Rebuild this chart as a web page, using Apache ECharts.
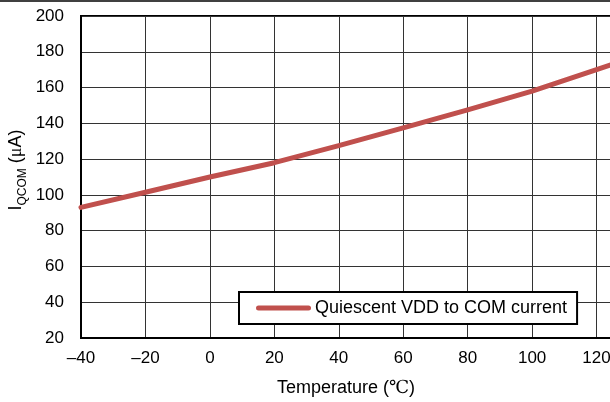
<!DOCTYPE html>
<html>
<head>
<meta charset="utf-8">
<script src="https://cdn.jsdelivr.net/npm/echarts@6/dist/echarts.min.js"></script>
<style>html,body{margin:0;padding:0;background:#fff;}#c{width:610px;height:402px;}</style>
</head>
<body>
<div id="c"></div>
<script>
var temperatures = [-40, -20, 0, 20, 40, 60, 80, 100, 120, 125];
var currentQCOM = [93, 101.5, 110, 118, 127.5, 137.5, 147.5, 158, 170, 173];
var seriesName = 'Quiescent VDD to COM current';
var xTitle = 'Temperature (';
var xUnit = '℃';

var chart = echarts.init(document.getElementById('c'), null, {renderer: 'canvas'});
var pts = temperatures.map(function (t, i) { return [t, currentQCOM[i]]; });
chart.setOption({
  animation: false,
  backgroundColor: '#fff',
  grid: {left: 81, top: 16, right: -51, bottom: 64, containLabel: false, outerBoundsMode: 'none',
    show: true, borderColor: '#000', borderWidth: 2, backgroundColor: 'transparent'},
  xAxis: {
    type: 'value', min: -40, max: 140, interval: 20,
    axisLine: {show: true, onZero: false, lineStyle: {color: '#000', width: 2}},
    axisTick: {show: false},
    splitLine: {show: true, lineStyle: {color: '#333', width: 1}},
    axisLabel: {color: '#000', fontSize: 17, fontFamily: 'Liberation Sans, Arial', margin: 12,
      formatter: function (v) { return String(v).replace('-', '\u2013'); }}
  },
  yAxis: {
    type: 'value', min: 20, max: 200, interval: 20,
    axisLine: {show: true, onZero: false, lineStyle: {color: '#000', width: 2}},
    axisTick: {show: false},
    splitLine: {show: true, lineStyle: {color: '#333', width: 1}},
    axisLabel: {color: '#000', fontSize: 17, fontFamily: 'Liberation Sans, Arial', margin: 17}
  },
  legend: {
    left: 239, top: 292,
    data: [{name: seriesName, icon: 'path://M2,0 L52,0 A2.5,2.5 0 0 1 52,5 L2,5 A2.5,2.5 0 0 1 2,0 Z'}],
    itemWidth: 55, itemHeight: 5, itemGap: 4,
    backgroundColor: '#fff', borderColor: '#000', borderWidth: 2,
    padding: [7, 10, 7, 17],
    textStyle: {color: '#000', fontSize: 18, fontFamily: 'Liberation Sans, Arial', padding: [0, 0, 0, -1]}
  },
  graphic: [
    {type: 'line', shape: {x1: 0, y1: 1, x2: 610, y2: 1}, style: {stroke: '#000', lineWidth: 1.5}, silent: true},
    {type: 'text', x: 346, y: 388, style: {
      text: '{a|' + xTitle + '}{u|' + xUnit + '}{a|)}',
      textAlign: 'center', textVerticalAlign: 'middle',
      rich: {a: {fontSize: 18, fontFamily: 'Liberation Sans, Arial', fill: '#000'},
             u: {fontSize: 18, fontFamily: 'Liberation Serif, DejaVu Serif, serif', fill: '#000'}}
    }},
    {type: 'text', x: 16, y: 170, rotation: Math.PI / 2, style: {
      text: '{a|I}{b|QCOM}{a| (}{m|μ}{a|A)}',
      textAlign: 'center', textVerticalAlign: 'middle',
      rich: {a: {fontSize: 18, fontFamily: 'Liberation Sans, Arial', fill: '#000', lineHeight: 26, verticalAlign: 'middle'},
             m: {fontSize: 18, fontFamily: 'Liberation Serif, DejaVu Serif, serif', fill: '#000', lineHeight: 26},
             b: {fontSize: 12, fontFamily: 'Liberation Sans, Arial', fill: '#000', verticalAlign: 'bottom', lineHeight: 26}}
    }}
  ],
  series: [{
    name: seriesName, type: 'line', data: pts, symbol: 'none', smooth: false,
    lineStyle: {color: '#C0504D', width: 5, cap: 'round', join: 'round'},
    itemStyle: {color: '#C0504D'}, clip: true
  }]
});
</script>
</body>
</html>
